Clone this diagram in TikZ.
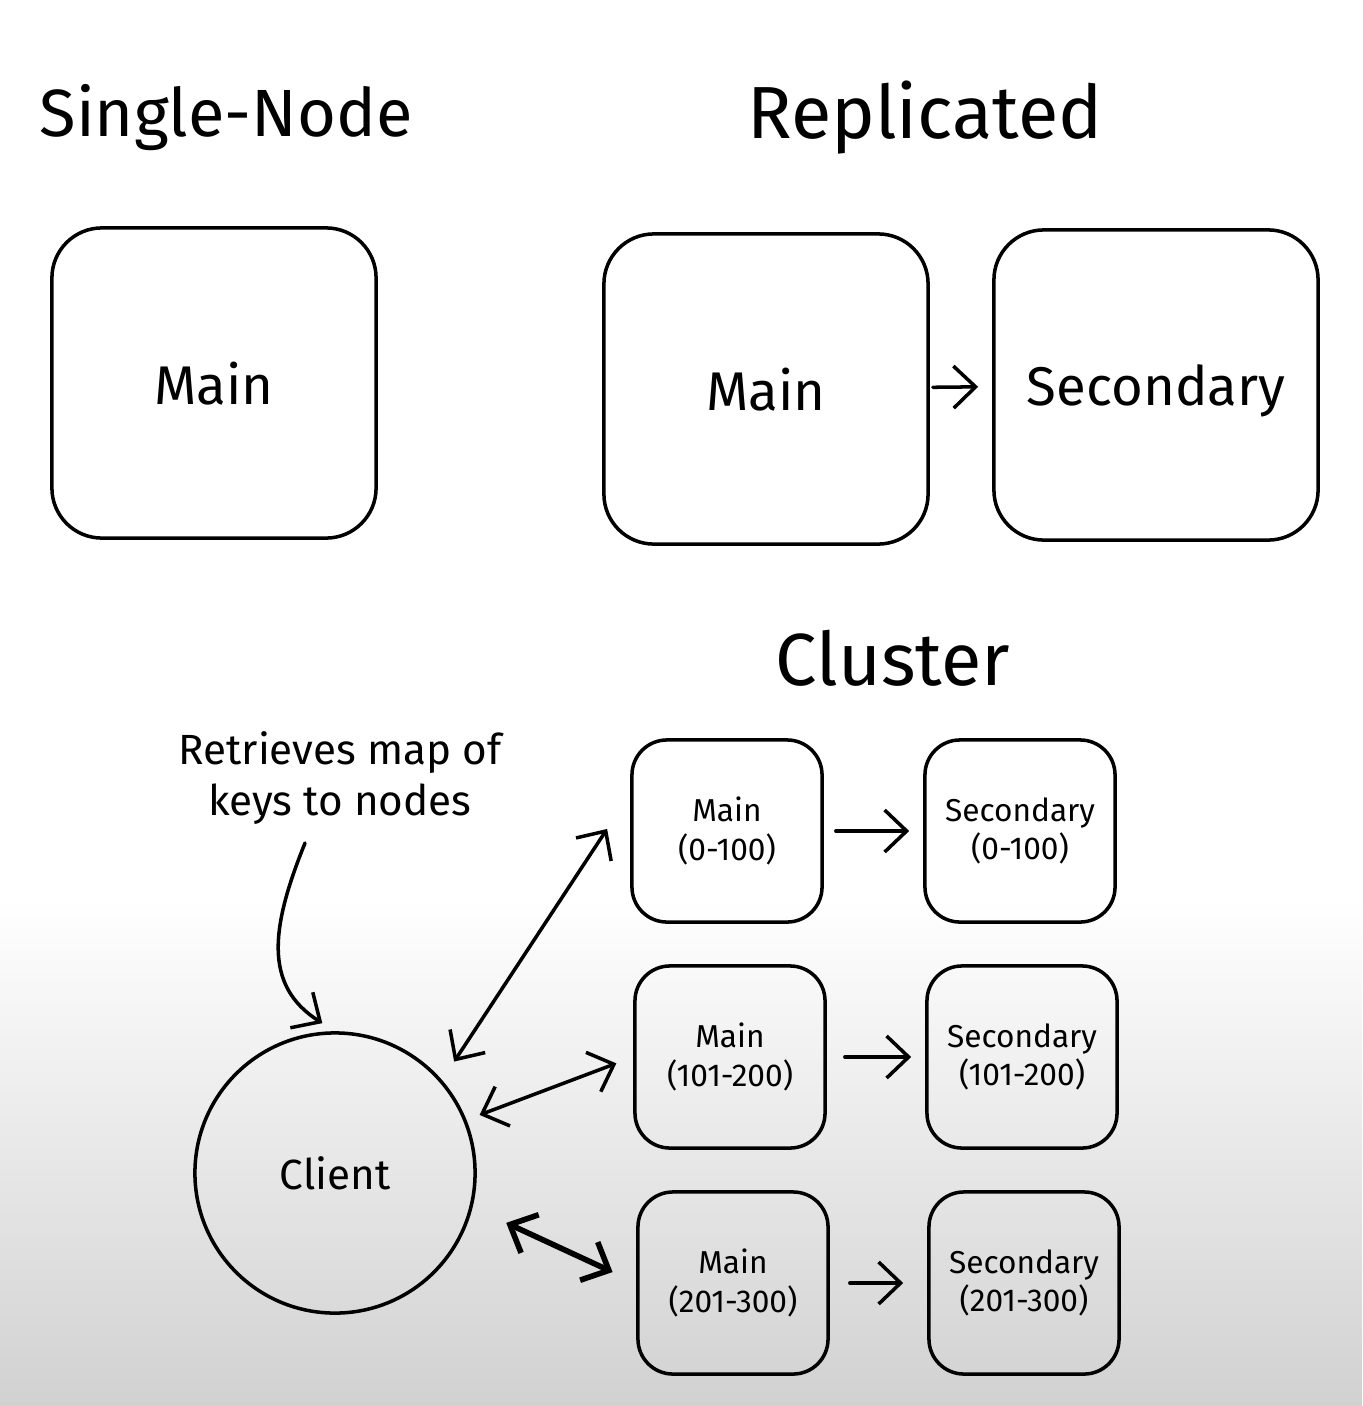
\documentclass[tikz,border=0pt]{standalone}
\usepackage{fontspec}
\setmainfont{Fira Sans}
\usetikzlibrary{arrows.meta}

\tikzset{
    title/.style={font=\fontsize{21}{25}\selectfont},
    bigbox/.style={draw, rounded corners=0.5cm, minimum width=3.24cm, minimum height=3.1cm,
        text depth=0pt, font=\fontsize{15.5}{18}\selectfont},
    smallbox/.style={draw, rounded corners=0.35cm, minimum width=1.9cm, minimum height=1.82cm,
        align=center, font=\fontsize{9}{11}\selectfont},
    note/.style={align=center, font=\fontsize{12}{14.5}\selectfont},
}

\begin{document}
\begin{tikzpicture}[x=0.01cm, y=-0.01cm, line width=1pt, line cap=round,
        >={Straight Barb[length=2.2mm,width=4.2mm]}]
        % background
        \fill[white] (0,0) rectangle (1362,900);
        \shade[top color=white, bottom color=black!18] (0,899) rectangle (1362,1406);
        \useasboundingbox (0,0) rectangle (1362,1406);

        % titles
        \node[title, font=\fontsize{19}{23}\selectfont] (tsingle) at (226,118) {Single-Node};
        \node[title] (trepl) at (925,118) {Replicated};
        \node[title] (tclust) at (893,658) {Cluster};

        % single node and replicated
        \node[bigbox] (single) at (214,383) {Main};
        \node[bigbox] (rmain) at (766,389) {Main};
        \node[bigbox] (rsec) at (1156,385) {Secondary};
        \draw[->, shorten <=0.03cm, shorten >=0.14cm] (rmain) -- (rsec);

        % cluster
        \node[smallbox] (m1) at (727,831) {Main\\(0-100)};
        \node[smallbox] (s1) at (1020,831) {Secondary\\(0-100)};
        \node[smallbox] (m2) at (730,1057) {Main\\(101-200)};
        \node[smallbox] (s2) at (1022,1057) {Secondary\\(101-200)};
        \node[smallbox] (m3) at (733,1283) {Main\\(201-300)};
        \node[smallbox] (s3) at (1024,1283) {Secondary\\(201-300)};
        \draw[->, shorten <=0.12cm, shorten >=0.14cm] (m1) -- (s1);
        \draw[->, shorten <=0.18cm, shorten >=0.14cm] (m2) -- (s2);
        \draw[->, shorten <=0.2cm, shorten >=0.24cm] (m3) -- (s3);

        % client
        \node[draw, circle, minimum size=2.8cm, font=\fontsize{12}{14}\selectfont] (client) at (335,1173) {Client};
        \draw[<->, shorten <=0.22cm, shorten >=0.42cm] (client.41) -- (m1.159);
        \draw[<->, shorten <=0.14cm, shorten >=0.18cm] (client.22) -- (m2.west);
        \draw[<->, line width=1.6pt, shorten <=0.37cm, shorten >=0.26cm] (client.-14) -- (m3.west);

        % note
        \node[note] (note) at (340,778) {Retrieves map of\\keys to nodes};
        \coordinate (cnote) at (305,843);
        \draw[->, shorten >=0.15cm] (cnote) .. controls (272,925) and (262,985) .. (client.90);
    \end{tikzpicture}
\end{document}
